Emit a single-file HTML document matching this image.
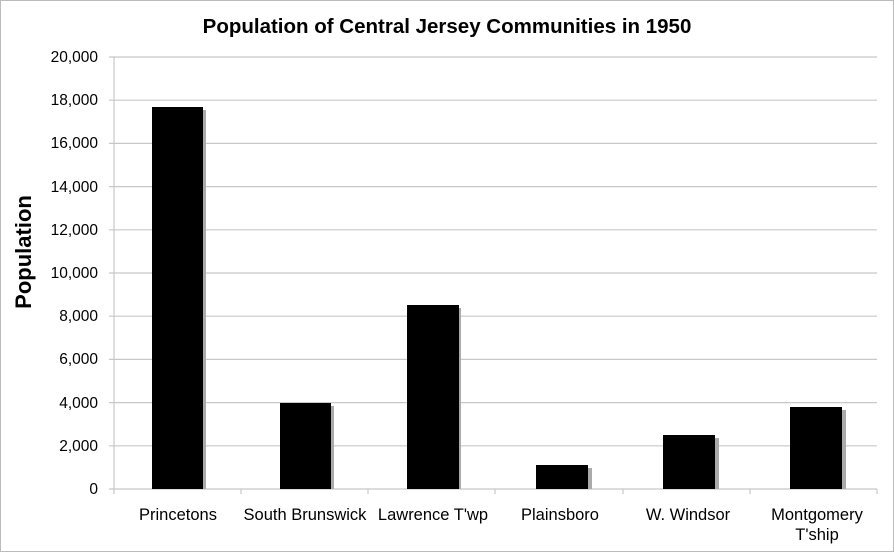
<!DOCTYPE html>
<html><head><style>body{margin:0;background:#fff}svg{display:block}text{font-family:"Liberation Sans",sans-serif}</style></head><body>
<svg width="894" height="552" viewBox="0 0 894 552" xmlns="http://www.w3.org/2000/svg">
<rect x="0.5" y="0.5" width="893" height="551" fill="#fff" stroke="#bbb"/>
<text x="447" y="33" text-anchor="middle" font-size="20.5" font-weight="bold">Population of Central Jersey Communities in 1950</text>
<g stroke="#c8c8c8" stroke-width="1.2">
<line x1="109" y1="57" x2="877" y2="57"/><line x1="109" y1="100.2" x2="877" y2="100.2"/><line x1="109" y1="143.4" x2="877" y2="143.4"/><line x1="109" y1="186.6" x2="877" y2="186.6"/><line x1="109" y1="229.8" x2="877" y2="229.8"/><line x1="109" y1="273" x2="877" y2="273"/><line x1="109" y1="316.2" x2="877" y2="316.2"/><line x1="109" y1="359.4" x2="877" y2="359.4"/><line x1="109" y1="402.6" x2="877" y2="402.6"/><line x1="109" y1="445.8" x2="877" y2="445.8"/>
<line x1="109" y1="489" x2="877" y2="489"/><line x1="114" y1="57" x2="114" y2="489"/>
<line x1="114" y1="489" x2="114" y2="494"/><line x1="241" y1="489" x2="241" y2="494"/><line x1="368" y1="489" x2="368" y2="494"/><line x1="495" y1="489" x2="495" y2="494"/><line x1="623" y1="489" x2="623" y2="494"/><line x1="750" y1="489" x2="750" y2="494"/><line x1="877" y1="489" x2="877" y2="494"/>
</g>
<g font-size="15.5" text-anchor="end">
<text x="98" y="62">20,000</text><text x="98" y="105">18,000</text><text x="98" y="148">16,000</text><text x="98" y="192">14,000</text><text x="98" y="235">12,000</text><text x="98" y="278">10,000</text><text x="98" y="321">8,000</text><text x="98" y="364">6,000</text><text x="98" y="408">4,000</text><text x="98" y="451">2,000</text><text x="98" y="494">0</text>
</g>
<text transform="translate(31,252) rotate(-90)" text-anchor="middle" font-size="22" font-weight="bold">Population</text>
<g fill="#aaa">
<rect x="155" y="110" width="51" height="379"/><rect x="283" y="406" width="51" height="83"/><rect x="410" y="308" width="51" height="181"/><rect x="537" y="468" width="55" height="21"/><rect x="664" y="438" width="55" height="51"/><rect x="791" y="410" width="55" height="79"/>
</g>
<g fill="#000">
<rect x="152" y="107" width="51" height="382"/><rect x="280" y="403" width="51" height="86"/><rect x="407" y="305" width="52" height="184"/><rect x="536" y="465" width="52" height="24"/><rect x="663" y="435" width="52" height="54"/><rect x="790" y="407" width="52" height="82"/>
</g>
<g font-size="16.5" text-anchor="middle">
<text x="178" y="520">Princetons</text><text x="305" y="520">South Brunswick</text><text x="433" y="520">Lawrence T'wp</text><text x="560" y="520">Plainsboro</text><text x="688" y="520">W. Windsor</text><text x="817" y="520">Montgomery</text><text x="817" y="540">T'ship</text>
</g>
</svg>
</body></html>
